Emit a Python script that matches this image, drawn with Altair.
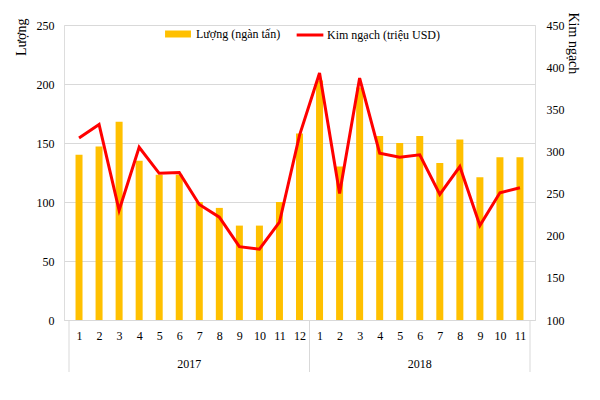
import altair as alt
import pandas as pd

# ---- data ----
years = ["2017"] * 12 + ["2018"] * 11
months = [str(m) for m in range(1, 13)] + [str(m) for m in range(1, 12)]
luong = [140, 147, 168, 135, 123, 123, 100, 95, 80, 80, 100, 158,
         203, 130, 197, 156, 150, 156, 133, 153, 121, 138, 138]
kim_ngach = [316, 332, 230, 305, 274, 275, 237, 222, 187, 184, 216, 319,
             393, 250, 387, 298, 293, 296, 249, 282, 212, 251, 257]
year_labels = ["2017", "2018"]
bar_name = "Lượng (ngàn tấn)"
line_name = "Kim ngạch (triệu USD)"

FONT = "Liberation Serif"
GRID = "#D9D9D9"

n = len(months)
df = pd.DataFrame({"idx": list(range(n)), "month": months, "year": years,
                   "luong": luong, "kim": kim_ngach})
df["s1"] = bar_name
df["s2"] = line_name

# group boundaries and centers derived from year grouping
bounds, centers = [-0.5], []
for y in year_labels:
    ids = [i for i, yy in enumerate(years) if yy == y]
    bounds.append(ids[-1] + 0.5)
    centers.append((ids[0] + ids[-1]) / 2)
rules_df = pd.DataFrame({"b": bounds})
years_df = pd.DataFrame({"c": centers, "year": year_labels})

label_arr = "[" + ",".join("'" + m + "'" for m in months) + "]"

W, H = 471, 295
xscale = alt.Scale(domain=[-0.5, n - 0.5], nice=False, zero=False)
x_axis = alt.Axis(values=list(range(n)), labelExpr=label_arr + "[datum.value]",
                  ticks=False, grid=False, domainColor=GRID, domainWidth=1,
                  labelOverlap=False, labelFlush=False,
                  labelFont=FONT, labelFontSize=12, labelColor="black",
                  labelPadding=10, title=None)

bars = alt.Chart(df).mark_bar(size=7).encode(
    x=alt.X("idx:Q", scale=xscale, axis=x_axis),
    y=alt.Y("luong:Q", scale=alt.Scale(domain=[0, 250], nice=False),
            axis=alt.Axis(orient="left", values=[0, 50, 100, 150, 200, 250],
                          ticks=False, domain=False, grid=True, gridColor=GRID,
                          labelFont=FONT, labelFontSize=12, labelColor="black",
                          labelPadding=10,
                          title="Lượng", titleFont=FONT, titleFontSize=14,
                          titleFontWeight="normal", titleColor="black",
                          titleAngle=270, titleAlign="right", titleBaseline="middle",
                          titleX=-43, titleY=-7)),
    color=alt.Color("s1:N", scale=alt.Scale(domain=[bar_name], range=["#FFC000"]),
                    legend=alt.Legend(orient="none", legendX=108, legendY=3, title=None,
                                      padding=0,
                                      symbolType="M-3.7,-1H3.7V1H-3.7Z", symbolSize=49,
                                      symbolStrokeWidth=0, labelOffset=12,
                                      labelFont=FONT, labelFontSize=12, labelColor="black")),
)

line = alt.Chart(df).mark_line(strokeWidth=3).encode(
    x=alt.X("idx:Q", scale=xscale, axis=x_axis),
    y=alt.Y("kim:Q", scale=alt.Scale(domain=[100, 450], nice=False, zero=False),
            axis=alt.Axis(orient="right", values=[100, 150, 200, 250, 300, 350, 400, 450],
                          ticks=False, domain=False, grid=False,
                          labelFont=FONT, labelFontSize=12, labelColor="black",
                          labelPadding=11,
                          title="Kim ngạch", titleFont=FONT, titleFontSize=14,
                          titleFontWeight="normal", titleColor="black",
                          titleAngle=90, titleAlign="left", titleBaseline="middle",
                          titleX=37, titleY=-13)),
    stroke=alt.Stroke("s2:N", scale=alt.Scale(domain=[line_name], range=["#FF0000"]),
                      legend=alt.Legend(orient="none", legendX=231, legendY=-5, title=None,
                                        padding=0, symbolType="stroke", symbolSize=713,
                                        symbolStrokeWidth=3, labelOffset=2,
                                        labelFont=FONT, labelFontSize=12, labelColor="black")),
)

seps = alt.Chart(rules_df).mark_rule(color=GRID, strokeWidth=1).encode(
    x=alt.X("b:Q", scale=xscale, axis=x_axis),
    y=alt.value(H),
    y2=alt.value(H + 52),
)

year_text = alt.Chart(years_df).mark_text(font=FONT, fontSize=12, color="black",
                                          baseline="middle").encode(
    x=alt.X("c:Q", scale=xscale, axis=x_axis),
    y=alt.value(H + 44),
    text="year:N",
)

chart = alt.layer(bars, line, seps, year_text).resolve_scale(
    y="independent", color="independent", stroke="independent"
).properties(
    width=W, height=H,
    autosize=alt.AutoSizeParams(type="none"),
    padding={"left": 56, "top": 17, "right": 57, "bottom": 72},
).configure_view(stroke=None).configure(background="white").configure_axisX(
    labelOverlap=False
)

chart.save("out.html", embed_options={"renderer": "svg", "actions": False})
